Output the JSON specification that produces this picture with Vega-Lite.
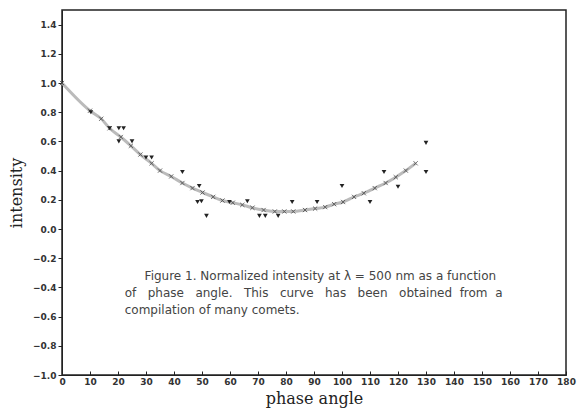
{
  "$schema": "https://vega.github.io/schema/vega-lite/v6.json",
  "width": 504,
  "height": 365,
  "autosize": {"type": "none"},
  "padding": {"left": 62, "top": 10, "right": 13, "bottom": 39},
  "background": "white",
  "config": {
    "view": {"stroke": "#222", "strokeWidth": 1.5},
    "axis": {"grid": false, "domainColor": "#222", "tickColor": "#222", "labelColor": "#333", "labelFont": "DejaVu Sans", "labelFontSize": 9, "labelFontWeight": "bold", "titleFont": "DejaVu Serif", "titleFontSize": 16, "titleFontWeight": "normal", "titleColor": "#222"}
  },
  "datasets": {
    "curve": [
      {"angle": 0, "intensity": 1.0},
      {"angle": 10, "intensity": 0.81},
      {"angle": 14, "intensity": 0.755},
      {"angle": 17, "intensity": 0.69},
      {"angle": 21, "intensity": 0.63},
      {"angle": 24.6, "intensity": 0.57},
      {"angle": 28, "intensity": 0.51},
      {"angle": 32, "intensity": 0.45},
      {"angle": 35, "intensity": 0.40},
      {"angle": 39, "intensity": 0.36},
      {"angle": 43, "intensity": 0.315},
      {"angle": 46.6, "intensity": 0.28},
      {"angle": 50.2, "intensity": 0.25},
      {"angle": 54, "intensity": 0.22},
      {"angle": 57.3, "intensity": 0.195},
      {"angle": 61, "intensity": 0.18},
      {"angle": 64.4, "intensity": 0.165},
      {"angle": 68, "intensity": 0.145},
      {"angle": 72, "intensity": 0.13},
      {"angle": 76, "intensity": 0.12},
      {"angle": 79.4, "intensity": 0.12},
      {"angle": 82.6, "intensity": 0.12},
      {"angle": 86.8, "intensity": 0.13},
      {"angle": 90.4, "intensity": 0.14},
      {"angle": 94, "intensity": 0.15},
      {"angle": 97.2, "intensity": 0.17},
      {"angle": 100.4, "intensity": 0.185},
      {"angle": 104.3, "intensity": 0.22},
      {"angle": 107.8, "intensity": 0.245},
      {"angle": 111.7, "intensity": 0.28},
      {"angle": 115.6, "intensity": 0.315},
      {"angle": 119.2, "intensity": 0.355},
      {"angle": 122.8, "intensity": 0.40},
      {"angle": 126.3, "intensity": 0.45}
    ],
    "obs": [
      {"angle": 10.3, "intensity": 0.80},
      {"angle": 17, "intensity": 0.69},
      {"angle": 20.3, "intensity": 0.69},
      {"angle": 22, "intensity": 0.69},
      {"angle": 20.3, "intensity": 0.60},
      {"angle": 25, "intensity": 0.60},
      {"angle": 30, "intensity": 0.49},
      {"angle": 32, "intensity": 0.49},
      {"angle": 43, "intensity": 0.39},
      {"angle": 49, "intensity": 0.295},
      {"angle": 48.4, "intensity": 0.185},
      {"angle": 49.8, "intensity": 0.19},
      {"angle": 51.6, "intensity": 0.09},
      {"angle": 59.8, "intensity": 0.185},
      {"angle": 66.2, "intensity": 0.19},
      {"angle": 70.5, "intensity": 0.09},
      {"angle": 72.6, "intensity": 0.09},
      {"angle": 77.2, "intensity": 0.09},
      {"angle": 82.2, "intensity": 0.185},
      {"angle": 91.1, "intensity": 0.185},
      {"angle": 100, "intensity": 0.295},
      {"angle": 110, "intensity": 0.185},
      {"angle": 115, "intensity": 0.39},
      {"angle": 120, "intensity": 0.29},
      {"angle": 130, "intensity": 0.39},
      {"angle": 130, "intensity": 0.59}
    ],
    "caption": [
      {"angle": 29.5, "intensity": -0.32, "text": "Figure 1. Normalized intensity at λ = 500 nm as a function"},
      {"angle": 22.4, "intensity": -0.44, "text": "of\u00a0\u00a0\u00a0phase\u00a0\u00a0\u00a0angle.\u00a0\u00a0\u00a0This\u00a0\u00a0\u00a0curve\u00a0\u00a0\u00a0has\u00a0\u00a0\u00a0been\u00a0\u00a0\u00a0obtained\u00a0\u00a0from\u00a0\u00a0a"},
      {"angle": 22.4, "intensity": -0.555, "text": "compilation of many comets."}
    ]
  },
  "encoding": {
    "x": {"field": "angle", "type": "quantitative", "scale": {"domain": [0, 180], "nice": false},
      "axis": {"title": "phase angle", "values": [0,10,20,30,40,50,60,70,80,90,100,110,120,130,140,150,160,170,180], "tickSize": -4, "labelPadding": 6, "titlePadding": 4, "labelFlush": false}},
    "y": {"field": "intensity", "type": "quantitative", "scale": {"domain": [-1, 1.5], "nice": false, "zero": false},
      "axis": {"title": "intensity", "values": [-1,-0.8,-0.6,-0.4,-0.2,0,0.2,0.4,0.6,0.8,1,1.2,1.4], "format": ".1f", "tickSize": 4, "labelPadding": 2, "titlePadding": 8}}
  },
  "layer": [
    {"data": {"name": "curve"}, "mark": {"type": "line", "color": "#aaa", "strokeWidth": 3, "opacity": 0.8, "interpolate": "monotone"}},
    {"data": {"name": "curve"}, "mark": {"type": "point", "shape": "M-1,-1L1,1M-1,1L1,-1", "size": 18, "color": "#333", "strokeWidth": 1, "filled": false}},
    {"data": {"name": "obs"}, "mark": {"type": "point", "shape": "triangle-down", "size": 22, "color": "#222", "filled": true, "opacity": 1}},
    {"data": {"name": "caption"}, "mark": {"type": "text", "align": "left", "baseline": "middle", "font": "DejaVu Sans", "fontSize": 12, "color": "#444"}, "encoding": {"text": {"field": "text"}}}
  ]
}
